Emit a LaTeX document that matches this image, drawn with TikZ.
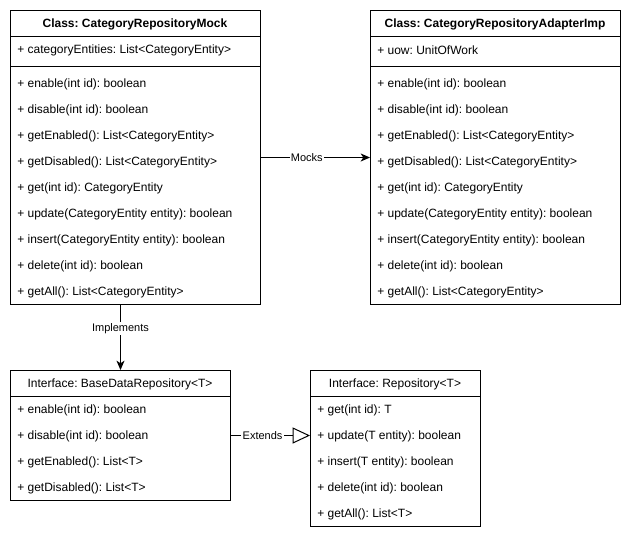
\documentclass[tikz,border=0pt]{standalone}
\usepackage{fontspec}
\setmainfont{Liberation Sans}
\usetikzlibrary{arrows.meta}
\frenchspacing
\begin{document}
\begin{tikzpicture}[x=0.75pt,y=-0.75pt,
  umlbox/.style={draw,line width=0.75pt,anchor=north west,inner sep=0pt,fill=white},
  title/.style={font=\fontsize{9}{11}\selectfont\bfseries,inner sep=0pt},
  ititle/.style={font=\fontsize{9}{11}\selectfont,inner sep=0pt},
  member/.style={font=\fontsize{9}{11}\selectfont,anchor=west,inner sep=0pt},
  sep/.style={line width=0.75pt},
  conn/.style={line width=0.75pt},
  elabel/.style={font=\fontsize{8.25}{10}\selectfont,fill=white,inner sep=1pt}]
\useasboundingbox (0,0) rectangle (631,540);
\fill[white] (0,0) rectangle (631,540);

% class boxes
\node[umlbox,minimum width=187.5pt,minimum height=220.5pt] (mock) at (10,10) {};
\node[umlbox,minimum width=187.5pt,minimum height=220.5pt] (adapter) at (370,10) {};
% interface boxes
\node[umlbox,minimum width=165pt,minimum height=97.5pt] (base) at (10,370) {};
\node[umlbox,minimum width=127.5pt,minimum height=117pt] (repo) at (310,370) {};

% CategoryRepositoryMock
\node[title] (mockT) at (135,24) {Class: CategoryRepositoryMock};
\draw[sep] (10,36) -- (260,36);
\node[member] (mockA) at (17,50) {+ categoryEntities: List<CategoryEntity>};
\draw[sep] (10,66) -- (260,66);
\foreach \t [count=\i from 0] in {%
  {+ enable(int id): boolean},
  {+ disable(int id): boolean},
  {+ getEnabled(): List<CategoryEntity>},
  {+ getDisabled(): List<CategoryEntity>},
  {+ get(int id): CategoryEntity},
  {+ update(CategoryEntity entity): boolean},
  {+ insert(CategoryEntity entity): boolean},
  {+ delete(int id): boolean},
  {+ getAll(): List<CategoryEntity>}}
  \node[member] (mockM\i) at (17,84.5+26*\i) {\t};

% CategoryRepositoryAdapterImp
\node[title] (adapterT) at (495,24) {Class: CategoryRepositoryAdapterImp};
\draw[sep] (370,36) -- (620,36);
\node[member] (adapterA) at (377,50) {+ uow: UnitOfWork};
\draw[sep] (370,66) -- (620,66);
\foreach \t [count=\i from 0] in {%
  {+ enable(int id): boolean},
  {+ disable(int id): boolean},
  {+ getEnabled(): List<CategoryEntity>},
  {+ getDisabled(): List<CategoryEntity>},
  {+ get(int id): CategoryEntity},
  {+ update(CategoryEntity entity): boolean},
  {+ insert(CategoryEntity entity): boolean},
  {+ delete(int id): boolean},
  {+ getAll(): List<CategoryEntity>}}
  \node[member] (adapterM\i) at (377,84.5+26*\i) {\t};

% BaseDataRepository<T>
\node[ititle] (baseT) at (120,384) {Interface: BaseDataRepository<T>};
\draw[sep] (10,396) -- (230,396);
\foreach \t [count=\i from 0] in {%
  {+ enable(int id): boolean},
  {+ disable(int id): boolean},
  {+ getEnabled(): List<T>},
  {+ getDisabled(): List<T>}}
  \node[member] (baseM\i) at (17,410.5+26*\i) {\t};

% Repository<T>
\node[ititle] (repoT) at (395,384) {Interface: Repository<T>};
\draw[sep] (310,396) -- (480,396);
\foreach \t [count=\i from 0] in {%
  {+ get(int id): T},
  {+ update(T entity): boolean},
  {+ insert(T entity): boolean},
  {+ delete(int id): boolean},
  {+ getAll(): List<T>}}
  \node[member] (repoM\i) at (317,410.5+26*\i) {\t};

% relations
\draw[conn,-{Stealth[length=7pt,width=6pt,inset=2pt]}] (mock.east) -- node[elabel,pos=0.42] {Mocks} (adapter.west);
\draw[conn,-{Stealth[length=7pt,width=6pt,inset=2pt]}] (base.north |- mock.south) -- node[elabel,pos=0.36] {Implements} (base.north);
\draw[conn,-{Triangle[open,length=13pt,width=12pt,fill=white]}] (base.east) -- node[elabel,pos=0.4] {Extends} (repo.west |- base.east);
\end{tikzpicture}
\end{document}
